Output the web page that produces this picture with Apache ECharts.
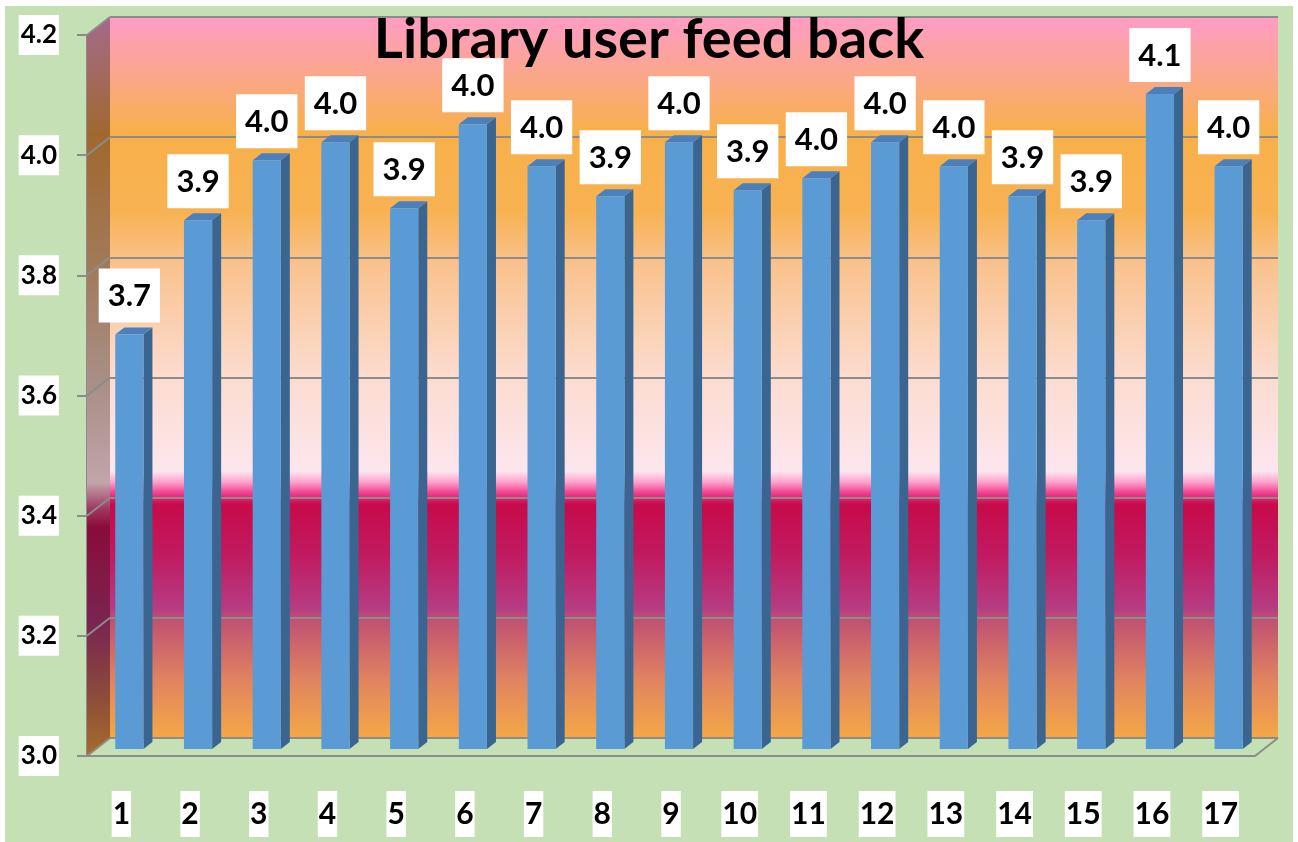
<!DOCTYPE html>
<html>
<head>
<meta charset="utf-8">
<title>Library user feed back</title>
<script src="https://cdn.jsdelivr.net/npm/echarts@6/dist/echarts.min.js"></script>
<style>
  html, body { margin: 0; padding: 0; background: #ffffff; }
  #chart { width: 1298px; height: 842px; }
</style>
</head>
<body>
<div id="chart"></div>
<script>
// data
const categories = ['1', '2', '3', '4', '5', '6', '7', '8', '9', '10', '11', '12', '13', '14', '15', '16', '17'];
const feedback = [3.69, 3.88, 3.98, 4.01, 3.90, 4.04, 3.97, 3.92, 4.01, 3.93, 3.95, 4.01, 3.97, 3.92, 3.88, 4.09, 3.97];
const yTicks = [3.0, 3.2, 3.4, 3.6, 3.8, 4.0, 4.2];

const yMin = 3.0, yMax = 4.2, yStep = 0.2;
const DEPTH = [23, -18];      // back wall offset from the front axis
const BAR_SHIFT = [8, -7];    // bars stand a bit behind the front edge
const BAR_SIDE = [9, -7];     // bar thickness
const GRID_LINE = '#8c8c8c';

const wallStops = [
  [0.00, '#ff9cc6'], [0.09, '#faa884'], [0.16, '#f8b04a'], [0.27, '#f8b252'],
  [0.34, '#f9c28c'], [0.50, '#fcdcd0'], [0.63, '#fde6ee'], [0.645, '#ffa2cc'],
  [0.66, '#f04090'], [0.676, '#c70a4a'], [0.75, '#c01c62'], [0.82, '#b63c82'],
  [0.835, '#c05072'], [0.92, '#e08460'], [1.00, '#f5a846']
];
const sideStops = [
  [0.00, '#a46a8c'], [0.16, '#a0682e'], [0.34, '#a27a5a'], [0.50, '#a89088'],
  [0.63, '#c2a4aa'], [0.665, '#a03a62'], [0.69, '#8a0c3a'], [0.82, '#7a2450'],
  [0.92, '#8c4c3a'], [1.00, '#a86c2c']
];

function gradient(stops) {
  return new echarts.graphic.LinearGradient(0, 0, 0, 1,
    stops.map(s => ({ offset: s[0], color: s[1] })));
}

// side wall, its grid lines and the floor edges
function renderWalls(params, api) {
  const cs = params.coordSys;
  const x0 = cs.x, x1 = cs.x + cs.width;
  const yTop = api.coord([0, yMax])[1];
  const yBot = api.coord([0, yMin])[1];
  const children = [{
    type: 'polygon',
    shape: { points: [[x0, yTop], [x0 + DEPTH[0], yTop + DEPTH[1]], [x0 + DEPTH[0], yBot + DEPTH[1]], [x0, yBot]] },
    style: { fill: gradient(sideStops) }
  }];
  yTicks.forEach(t => {
    const y = api.coord([0, t])[1];
    children.push({
      type: 'line',
      shape: { x1: x0, y1: y, x2: x0 + DEPTH[0], y2: y + DEPTH[1] },
      style: { stroke: GRID_LINE, lineWidth: 2 }
    });
  });
  children.push({
    type: 'line',
    shape: { x1: x1, y1: yBot, x2: x1 + DEPTH[0], y2: yBot + DEPTH[1] },
    style: { stroke: GRID_LINE, lineWidth: 2 }
  });
  return { type: 'group', children: children };
}

// 3d looking bars with a value box on top
function renderBar(params, api) {
  const idx = api.value(0), val = api.value(1);
  const base = api.coord([idx, yMin]);
  const top = api.coord([idx, val]);
  const w = api.size([1, 0])[0] * 0.41;
  const cx = base[0] + BAR_SHIFT[0];
  const xl = cx - w / 2, xr = cx + w / 2;
  const yb = base[1] + BAR_SHIFT[1], yt = top[1] + BAR_SHIFT[1];
  const dx = BAR_SIDE[0], dy = BAR_SIDE[1];
  return {
    type: 'group',
    children: [
      { type: 'polygon', shape: { points: [[xr, yt], [xr + dx, yt + dy], [xr + dx, yb + dy], [xr, yb]] }, style: { fill: '#3b6591' } },
      { type: 'polygon', shape: { points: [[xl, yt], [xl + dx, yt + dy], [xr + dx, yt + dy], [xr, yt]] }, style: { fill: '#4a80bd' } },
      { type: 'rect', shape: { x: xl, y: yt, width: w, height: yb - yt }, style: { fill: '#5b9bd5' } },
      {
        type: 'text',
        style: {
          text: val.toFixed(1), x: cx, y: yt + dy - 5,
          align: 'center', verticalAlign: 'bottom',
          fontFamily: 'Lato', fontWeight: 'bold', fontSize: 31, fill: '#000',
          backgroundColor: '#ffffff', padding: [12, 9, 11, 9]
        }
      }
    ]
  };
}

const chart = echarts.init(document.getElementById('chart'));

const option = {
  backgroundColor: '#ffffff',
  animation: false,
  graphic: [{
    type: 'rect', z: -10,
    shape: { x: 5, y: 6, width: 1288, height: 836 },
    style: { fill: '#c5e0b4' }
  }],
  title: {
    text: 'Library user feed back',
    left: 'center',
    top: 7,
    textStyle: { fontFamily: 'Lato', fontWeight: 'bold', fontSize: 56, color: '#000' }
  },
  grid: [
    // back wall
    { left: 110, right: 20, top: 17, bottom: 104, show: true, borderWidth: 0, backgroundColor: gradient(wallStops) },
    // front axes
    { left: 87, right: 43, top: 35, bottom: 86 }
  ],
  xAxis: [
    { type: 'category', gridIndex: 0, data: categories, show: false },
    {
      type: 'category', gridIndex: 1, data: categories,
      axisLine: { lineStyle: { color: GRID_LINE, width: 2 } },
      axisTick: { length: 11, lineStyle: { color: GRID_LINE, width: 2 } },
      axisLabel: {
        margin: 35, fontFamily: 'Lato', fontWeight: 'bold', fontSize: 30, color: '#000',
        backgroundColor: '#ffffff', padding: [8, 1, 8, 1]
      }
    }
  ],
  yAxis: [
    {
      type: 'value', gridIndex: 0, min: yMin, max: yMax, interval: yStep,
      axisLine: { show: false }, axisTick: { show: false }, axisLabel: { show: false },
      splitLine: { show: true, lineStyle: { color: GRID_LINE, width: 2 } }
    },
    {
      type: 'value', gridIndex: 1, min: yMin, max: yMax, interval: yStep,
      axisLine: { show: true, lineStyle: { color: GRID_LINE, width: 2 } },
      axisTick: { show: true, length: 10, lineStyle: { color: GRID_LINE, width: 2 } },
      splitLine: { show: false },
      axisLabel: {
        margin: 28, fontFamily: 'Lato', fontWeight: 'bold', fontSize: 26, color: '#000',
        backgroundColor: '#ffffff', padding: [7, 2, 7, 2],
        formatter: v => v.toFixed(1)
      }
    }
  ],
  series: [
    {
      name: 'walls', type: 'custom', xAxisIndex: 1, yAxisIndex: 1, z: 1,
      renderItem: renderWalls, data: [[0, yMin]], silent: true
    },
    {
      name: 'feedback', type: 'custom', xAxisIndex: 1, yAxisIndex: 1, z: 3,
      renderItem: renderBar,
      encode: { x: 0, y: 1 },
      data: feedback.map((v, i) => [i, v])
    }
  ]
};

chart.setOption(option);
window.addEventListener('resize', () => chart.resize());
</script>
</body>
</html>
